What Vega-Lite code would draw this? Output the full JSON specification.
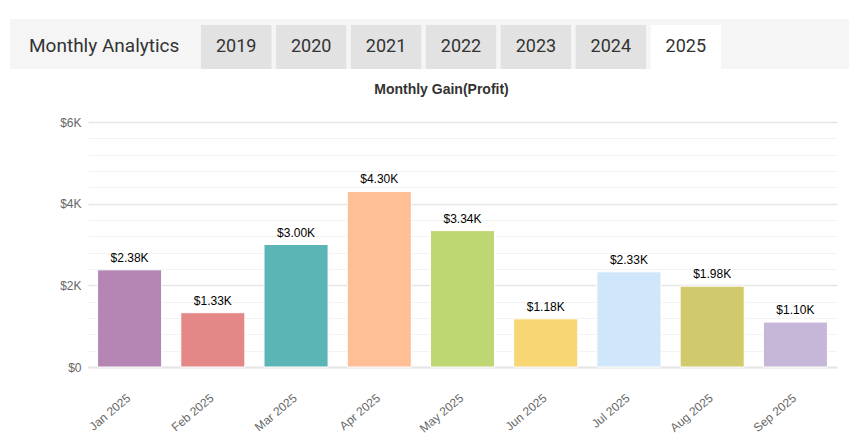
{
  "$schema": "https://vega.github.io/schema/vega-lite/v6.json",
  "background": "white",
  "padding": {"left": 10, "top": 19, "right": 0, "bottom": 0},
  "spacing": 14,
  "config": {
    "font": "Liberation Sans",
    "view": {"stroke": null}
  },
  "vconcat": [
    {
      "width": 839,
      "height": 50,
      "view": {"fill": "#f5f5f5", "stroke": null},
      "title": {
        "text": "Monthly Analytics",
        "orient": "top",
        "anchor": "start",
        "frame": "group",
        "baseline": "middle",
        "offset": -27,
        "dx": 19,
        "dy": 19,
        "font": "Roboto",
        "fontSize": 19,
        "fontWeight": "normal",
        "color": "#333333"
      },
      "data": {
        "values": [
          {"year": "2019"},
          {"year": "2020"},
          {"year": "2021"},
          {"year": "2022"},
          {"year": "2023"},
          {"year": "2024"},
          {"year": "2025"}
        ]
      },
      "encoding": {
        "x": {
          "field": "year",
          "type": "nominal",
          "sort": null,
          "axis": null,
          "scale": {"range": [191, 711], "paddingInner": 0.06, "paddingOuter": 0}
        },
        "y": {
          "datum": "tab",
          "type": "nominal",
          "axis": null,
          "scale": {"range": [6, 50], "paddingInner": 0, "paddingOuter": 0}
        }
      },
      "layer": [
        {
          "mark": {"type": "rect"},
          "encoding": {
            "color": {
              "condition": {"test": "datum.year === '2025'", "value": "#ffffff"},
              "value": "#e2e2e2"
            }
          }
        },
        {
          "mark": {"type": "text", "font": "Roboto", "fontSize": 18, "color": "#333333"},
          "encoding": {"text": {"field": "year", "type": "nominal"}}
        }
      ]
    },
    {
      "spacing": 0,
      "hconcat": [
        {
          "width": 0,
          "height": 0,
          "data": {"values": []},
          "mark": {"type": "point"}
        },
        {
          "width": 749,
          "height": 245,
          "title": {
            "text": "Monthly Gain(Profit)",
            "anchor": "middle",
            "font": "Liberation Sans",
            "fontSize": 14,
            "fontWeight": "bold",
            "color": "#333333",
            "offset": 19,
            "dx": -21
          },
          "data": {
            "values": [
              {"month": "Jan 2025", "profit": 2380},
              {"month": "Feb 2025", "profit": 1330},
              {"month": "Mar 2025", "profit": 3000},
              {"month": "Apr 2025", "profit": 4300},
              {"month": "May 2025", "profit": 3340},
              {"month": "Jun 2025", "profit": 1180},
              {"month": "Jul 2025", "profit": 2330},
              {"month": "Aug 2025", "profit": 1980},
              {"month": "Sep 2025", "profit": 1100}
            ]
          },
          "encoding": {
            "x": {
              "field": "month",
              "type": "ordinal",
              "sort": null,
              "scale": {"paddingInner": 0.23, "paddingOuter": 0.115},
              "axis": {
                "title": null,
                "labelAngle": -40,
                "ticks": false,
                "domainColor": "#e6e6e6",
                "domainWidth": 2,
                "labelColor": "#666666",
                "labelFont": "Liberation Sans",
                "labelFontSize": 12,
                "labelPadding": 25,
                "labelOffset": -4
              }
            },
            "y": {
              "field": "profit",
              "type": "quantitative",
              "scale": {"domain": [0, 6000], "nice": false},
              "axis": {
                "title": null,
                "values": [0, 400, 800, 1200, 1600, 2000, 2400, 2800, 3200, 3600, 4000, 4400, 4800, 5200, 5600, 6000],
                "labelExpr": "datum.value % 2000 === 0 ? (datum.value === 0 ? '$0' : '$' + datum.value / 1000 + 'K') : ''",
                "labelOverlap": false,
                "ticks": false,
                "domain": false,
                "labelPadding": 7,
                "labelColor": "#666666",
                "labelFont": "Liberation Sans",
                "labelFontSize": 12,
                "minExtent": 58,
                "gridColor": {
                  "condition": {"test": "datum.value % 2000 === 0", "value": "#e6e6e6"},
                  "value": "#f3f3f3"
                },
                "gridWidth": {
                  "condition": {"test": "datum.value % 2000 === 0", "value": 1.6},
                  "value": 1
                }
              }
            }
          },
          "layer": [
            {
              "mark": {"type": "bar", "stroke": "#ffffff", "strokeWidth": 1},
              "encoding": {
                "color": {
                  "field": "month",
                  "type": "nominal",
                  "sort": null,
                  "legend": null,
                  "scale": {
                    "range": ["#b586b3", "#e38886", "#5cb5b5", "#ffbf96", "#bfd773", "#f7d673", "#d0e6fa", "#d1ca6c", "#c6b7d8"]
                  }
                }
              }
            },
            {
              "mark": {
                "type": "text",
                "baseline": "bottom",
                "dy": -5,
                "font": "Liberation Sans",
                "fontSize": 12,
                "color": "#000000",
                "text": {"expr": "'$' + format(datum.profit / 1000, '.2f') + 'K'"}
              }
            }
          ]
        }
      ]
    }
  ]
}
